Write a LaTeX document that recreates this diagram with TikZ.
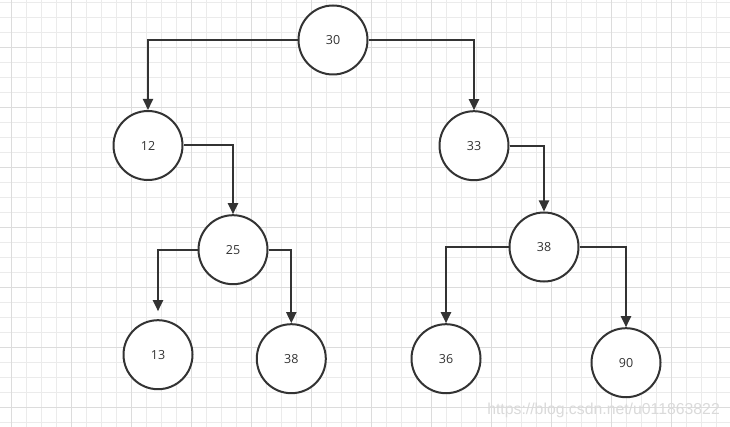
\documentclass[tikz,border=0pt]{standalone}
\usepackage{fontspec}
\setmainfont{Open Sans}
\newfontfamily\wmfont{Liberation Sans}
\usetikzlibrary{arrows.meta}
\definecolor{minorgrid}{HTML}{EBEBEB}
\definecolor{majorgrid}{HTML}{DCDCDC}
\definecolor{ink}{HTML}{333333}
\definecolor{wmcol}{HTML}{DADADA}
\begin{document}
\begin{tikzpicture}[x=1pt,y=-1pt,
  treenode/.style={circle, draw=ink, line width=2pt, fill=white, minimum size=69pt, inner sep=0pt,
    font=\fontsize{12.5}{14}\selectfont, text=ink},
  link/.style={draw=ink, line width=2pt, -{Triangle[length=11pt,width=10pt]}},
  minorline/.style={draw=minorgrid, line width=1pt},
  majorline/.style={draw=majorgrid, line width=1pt}]
\useasboundingbox (0,0) rectangle (730,427);
\fill[white] (0,0) rectangle (730,427);
% grid
\foreach \k in {0,...,47} { \draw[minorline] ({11.7+15*\k},0) -- ({11.7+15*\k},427); }
\foreach \k in {0,...,28} { \draw[minorline] (0,{2.3+15*\k}) -- (730,{2.3+15*\k}); }
\foreach \k in {0,...,11} { \draw[majorline] ({11.7+60*\k},0) -- ({11.7+60*\k},427); }
\foreach \k in {0,...,6} { \draw[majorline] (0,{47.3+60*\k}) -- (730,{47.3+60*\k}); }
% nodes
\node[treenode] (n30) at (333,40) {30};
\node[treenode] (n12) at (148,145.5) {12};
\node[treenode] (n33) at (474,145.7) {33};
\node[treenode] (n25) at (233,249.7) {25};
\node[treenode] (n38r) at (544,247) {38};
\node[treenode] (n13) at (158,354.7) {13};
\node[treenode] (n38l) at (291.3,358.7) {38};
\node[treenode] (n36) at (446,358.7) {36};
\node[treenode] (n90) at (626,362.7) {90};
% connectors
\draw[link] (n30.west) -| (n12.north);
\draw[link] (n30.east) -| (n33.north);
\draw[link] (n12.east) -| (n25.north);
\draw[link, shorten >=8pt] (n25.west) -| (n13.north);
\draw[link] (n25.east) -| (n38l.north);
\draw[link] (n33.east) -| (n38r.north);
\draw[link] (n38r.west) -| (n36.north);
\draw[link] (n38r.east) -| (n90.north);
% watermark
\node[anchor=base east, inner sep=0pt, text=wmcol, font=\wmfont\fontsize{15.8}{18}\selectfont] (wm) at (720,414.5) {https://blog.csdn.net/u011863822};
\end{tikzpicture}
\end{document}
